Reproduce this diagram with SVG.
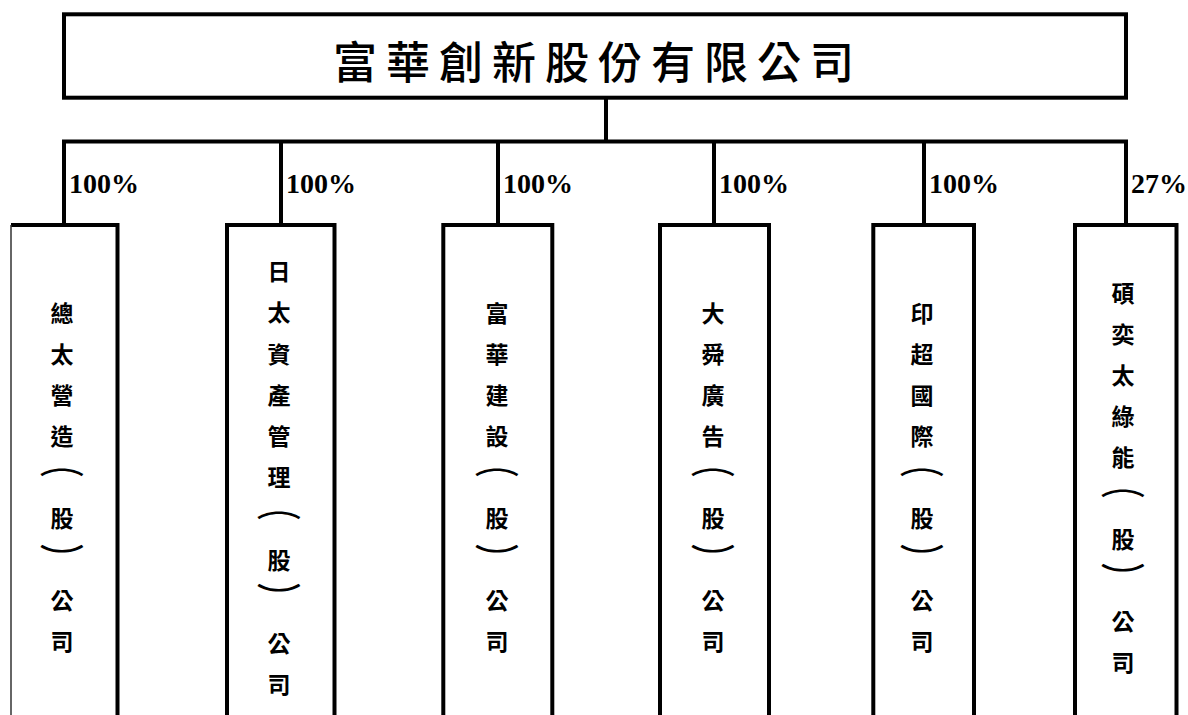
<svg xmlns="http://www.w3.org/2000/svg" width="1188" height="715" viewBox="0 0 1188 715">
<style>
.box{fill:#fff;stroke:#000;stroke-width:4}
.ln{fill:none;stroke:#000;stroke-width:4}
.title{font-family:"Noto Sans CJK TC","Noto Sans CJK JP",sans-serif;font-size:44px;font-weight:500;letter-spacing:9px;text-anchor:middle;dominant-baseline:central}
.ch{font-family:"Noto Sans CJK TC","Noto Sans CJK JP",sans-serif;font-size:23px;font-weight:700;text-anchor:middle;dominant-baseline:central}
.br{font-family:"Noto Sans CJK TC","Noto Sans CJK JP",sans-serif;font-size:28px;font-weight:500;text-anchor:middle;dominant-baseline:central}
.pct{font-family:"Liberation Serif","Times New Roman",serif;font-size:28px;font-weight:700}
</style>
<rect width="1188" height="715" fill="#fff"/>
<g id="connectors">
<path class="ln" d="M606,97.7 V141.5"/>
<path class="ln" d="M64,225 V141.5 H1126 V225"/>
<path class="ln" d="M281,141.5 V225"/>
<path class="ln" d="M498,141.5 V225"/>
<path class="ln" d="M714,141.5 V225"/>
<path class="ln" d="M924,141.5 V225"/>
<text class="pct" x="69" y="193">100%</text>
<text class="pct" x="286" y="193">100%</text>
<text class="pct" x="503" y="193">100%</text>
<text class="pct" x="719" y="193">100%</text>
<text class="pct" x="929" y="193">100%</text>
<text class="pct" x="1131" y="193">27%</text>
</g>
<g id="root">
<rect class="box" x="64" y="14.3" width="1062" height="83.4"/>
<text class="title" x="598" y="60">富華創新股份有限公司</text>
</g>
<g id="n1">
<rect x="11" y="225" width="106.5" height="520" fill="#fff"/>
<path class="ln" d="M11,225 H117.5 V745"/>
<path d="M11,225 V745" stroke="#333" stroke-width="1.5" fill="none"/>
<text class="ch"><tspan x="62" y="312">總</tspan><tspan x="62" y="353">太</tspan><tspan x="62" y="394">營</tspan><tspan x="62" y="435">造</tspan><tspan x="62" y="517">股</tspan><tspan x="62" y="599">公</tspan><tspan x="62" y="640">司</tspan></text>
<text class="br" transform="translate(62,462.5) scale(1.6,1)">︵</text>
<text class="br" transform="translate(62,557) scale(1.6,1)">︶</text>
</g>
<g id="n2">
<rect class="box" x="227" y="225" width="107.5" height="520"/>
<text class="ch"><tspan x="279" y="270">日</tspan><tspan x="279" y="311">太</tspan><tspan x="279" y="353">資</tspan><tspan x="279" y="394">產</tspan><tspan x="279" y="435">管</tspan><tspan x="279" y="476">理</tspan><tspan x="279" y="559">股</tspan><tspan x="279" y="642">公</tspan><tspan x="279" y="683">司</tspan></text>
<text class="br" transform="translate(279,505.5) scale(1.6,1)">︵</text>
<text class="br" transform="translate(279,596) scale(1.6,1)">︶</text>
</g>
<g id="n3">
<rect class="box" x="443.3" y="225" width="109" height="520"/>
<text class="ch"><tspan x="497" y="312">富</tspan><tspan x="497" y="353">華</tspan><tspan x="497" y="394">建</tspan><tspan x="497" y="435">設</tspan><tspan x="497" y="517">股</tspan><tspan x="497" y="599">公</tspan><tspan x="497" y="640">司</tspan></text>
<text class="br" transform="translate(497,462.5) scale(1.6,1)">︵</text>
<text class="br" transform="translate(497,557) scale(1.6,1)">︶</text>
</g>
<g id="n4">
<rect class="box" x="660" y="225" width="109" height="520"/>
<text class="ch"><tspan x="713" y="312">大</tspan><tspan x="713" y="353">舜</tspan><tspan x="713" y="394">廣</tspan><tspan x="713" y="435">告</tspan><tspan x="713" y="517">股</tspan><tspan x="713" y="599">公</tspan><tspan x="713" y="640">司</tspan></text>
<text class="br" transform="translate(713,462.5) scale(1.6,1)">︵</text>
<text class="br" transform="translate(713,557) scale(1.6,1)">︶</text>
</g>
<g id="n5">
<rect class="box" x="873.3" y="225" width="100.7" height="520"/>
<text class="ch"><tspan x="922" y="312">印</tspan><tspan x="922" y="353">超</tspan><tspan x="922" y="394">國</tspan><tspan x="922" y="435">際</tspan><tspan x="922" y="517">股</tspan><tspan x="922" y="599">公</tspan><tspan x="922" y="640">司</tspan></text>
<text class="br" transform="translate(922,462.5) scale(1.6,1)">︵</text>
<text class="br" transform="translate(922,557) scale(1.6,1)">︶</text>
</g>
<g id="n6">
<rect class="box" x="1075" y="225" width="101.5" height="520"/>
<text class="ch"><tspan x="1123" y="292">碩</tspan><tspan x="1123" y="333">奕</tspan><tspan x="1123" y="374">太</tspan><tspan x="1123" y="415">綠</tspan><tspan x="1123" y="456">能</tspan><tspan x="1123" y="538">股</tspan><tspan x="1123" y="620">公</tspan><tspan x="1123" y="661">司</tspan></text>
<text class="br" transform="translate(1123,483.5) scale(1.6,1)">︵</text>
<text class="br" transform="translate(1123,576) scale(1.6,1)">︶</text>
</g>
</svg>
